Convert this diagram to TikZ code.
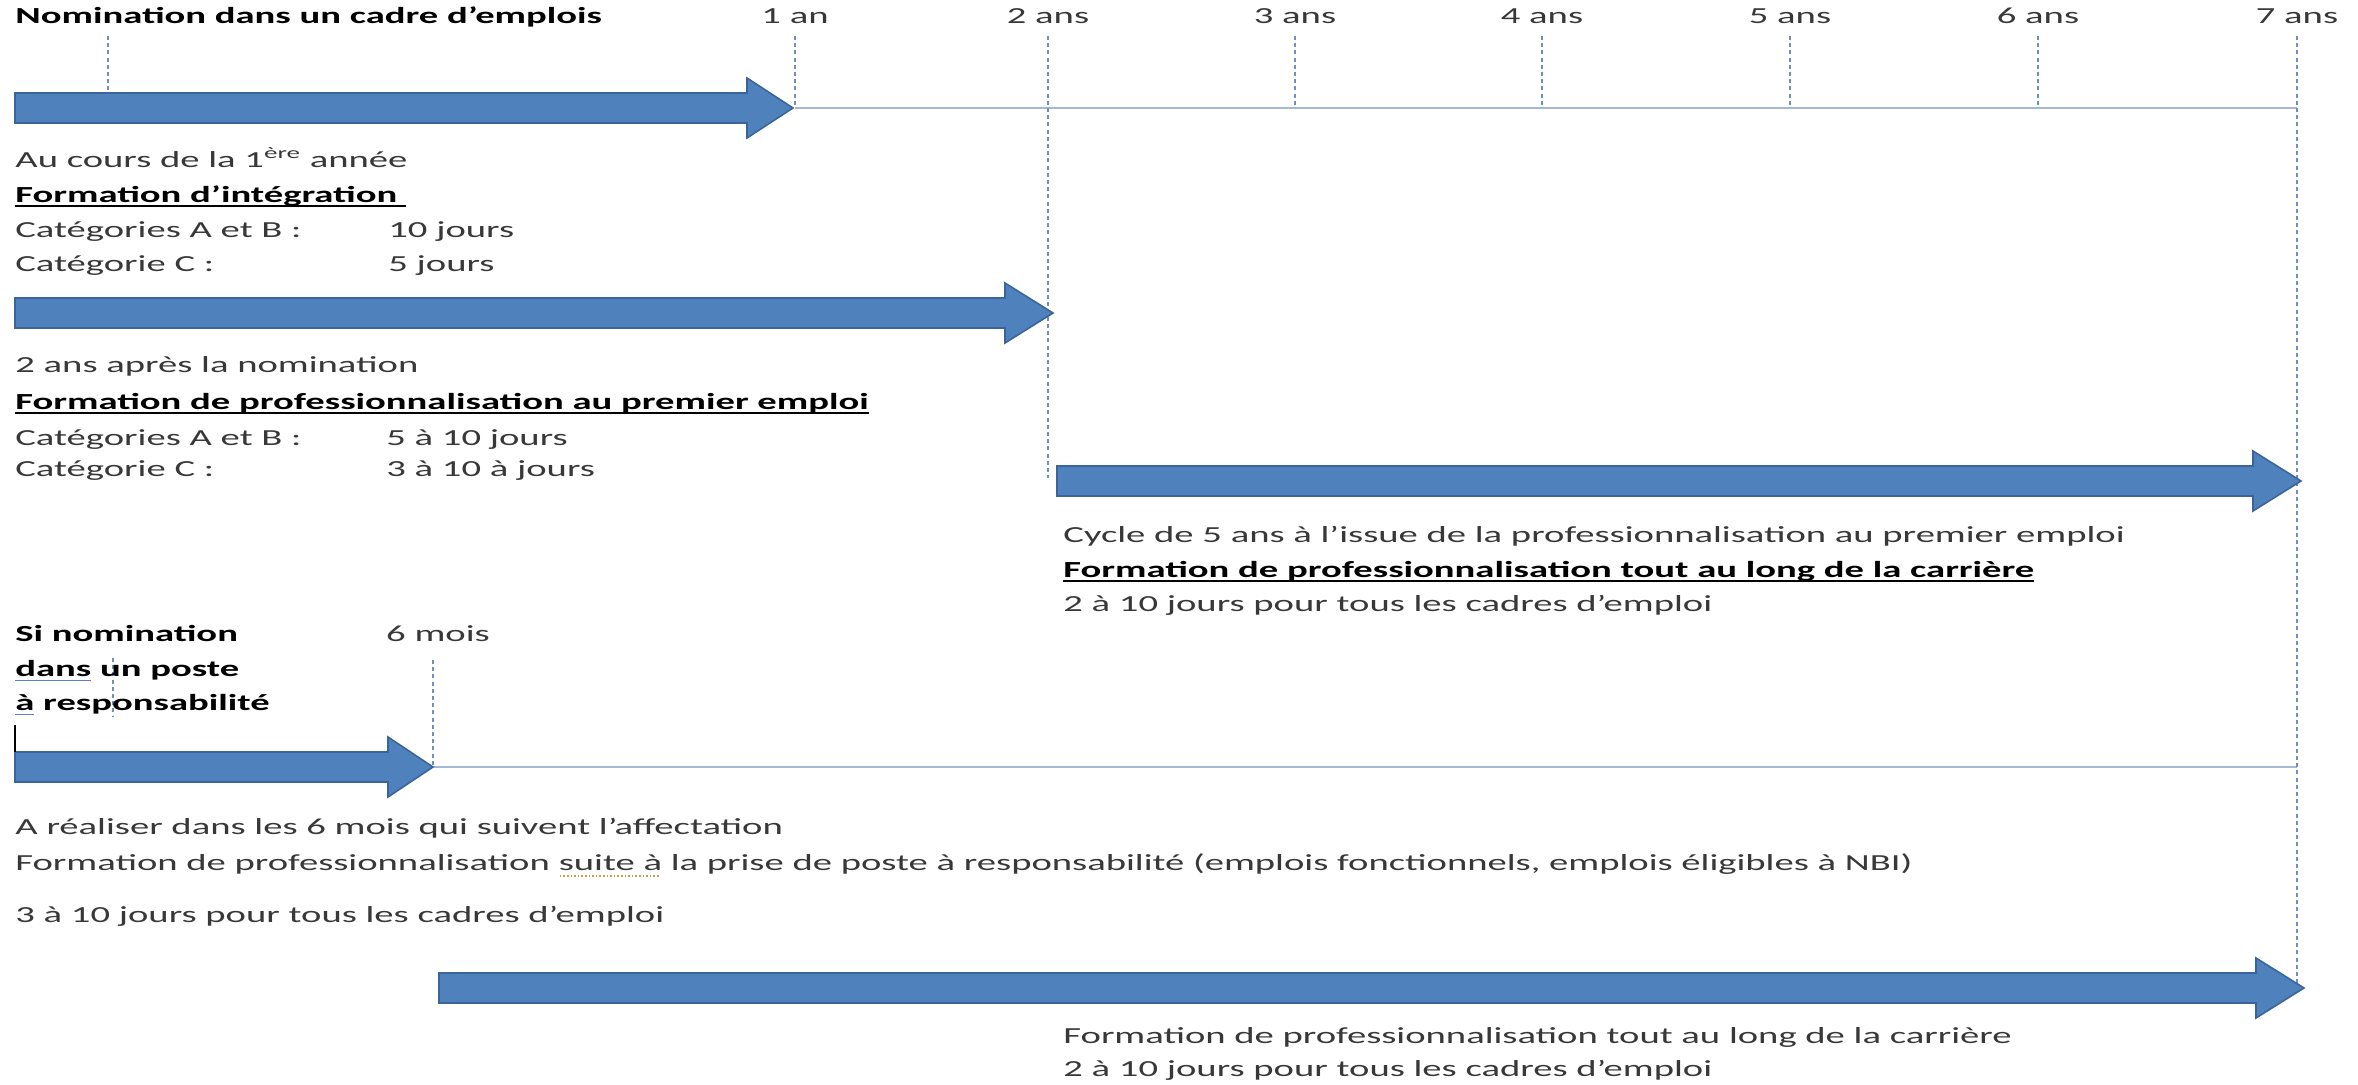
\documentclass[tikz,border=0pt]{standalone}
\usepackage{fontspec}
\setmainfont{Carlito}[FakeStretch=1.68]
\definecolor{arrfill}{HTML}{4F81BD}
\definecolor{arrdraw}{HTML}{3A659A}
\definecolor{tlc}{HTML}{A3B9D8}
\definecolor{tickc}{HTML}{6F8FBF}
\definecolor{txtc}{HTML}{383838}
\definecolor{spellc}{HTML}{5B7FD0}
\definecolor{gramc}{HTML}{C8A040}
\newcommand\myul[1]{\setbox0\hbox{#1}\rlap{\raisebox{-2.2pt}{\rule{\wd0}{0.9pt}}}#1}
\newcommand\myspell[1]{\setbox0\hbox{#1}\rlap{\raisebox{-2.4pt}{\textcolor{spellc}{\rule{\wd0}{0.7pt}}}}#1}
\newcommand\mydotul[1]{\setbox0\hbox{#1}\rlap{\raisebox{-3pt}{\textcolor{gramc}{\hbox to \wd0{\leaders\hbox to 1.8pt{\hss\rule{0.8pt}{0.8pt}\hss}\hfill}}}}#1}
\begin{document}
\begin{tikzpicture}[x=0.5pt,y=-0.5pt,
  txt/.style={anchor=west, inner sep=0pt, text height=8.6pt, text depth=2.9pt,
              font=\fontsize{11.5}{14}\selectfont, text=txtc},
  bold/.style={txt, font=\fontsize{11.5}{14}\selectfont\bfseries, text=black},
  yr/.style={txt, anchor=center},
  barrow/.style={fill=arrfill, draw=arrdraw, line width=0.8pt, line join=miter},
  tl/.style={draw=tlc, line width=1.4pt},
  tick/.style={draw=tickc, line width=0.6pt, dash pattern=on 2pt off 1.6pt}]
\useasboundingbox (0,0) rectangle (2358,1085);

% ---- tick labels ----
\node[bold] (title) at (15,18) {Nomination dans un cadre d’emplois};
\foreach \n/\x/\lab in {1/795/1 an, 2/1048/2 ans, 3/1295/3 ans, 4/1542/4 ans,
                         5/1790/5 ans, 6/2038/6 ans, 7/2297/7 ans}{
  \node[yr] (y\n) at (\x,18) {\lab};
  \coordinate (t\n) at (\x,36);
}
\coordinate (t0) at (108,36);
\coordinate (b0) at (108,93);
\coordinate (b1) at (795,108);
\coordinate (b2) at (1048,478);
\coordinate (b3) at (1295,108);
\coordinate (b4) at (1542,108);
\coordinate (b5) at (1790,108);
\coordinate (b6) at (2038,108);
\coordinate (b7) at (2297,985);
\coordinate (line1e) at (2297,108);

% ---- timeline lines ----
\draw[tl] (b1) -- (line1e);
\coordinate (m0) at (433,767);
\coordinate (line2e) at (2297,767);
\draw[tl] (m0) -- (line2e);

% ---- dotted ticks ----
\foreach \i in {0,...,7}{ \draw[tick] (t\i) -- (b\i); }
\coordinate (mt) at (433,660);
\draw[tick] (mt) -- (m0);
\coordinate (st) at (113,658);
\coordinate (sb) at (113,716);
\draw[tick] (st) -- (sb);

% ---- arrows ----
\draw[barrow] (15,93) -- (747,93) -- (747,78) -- (793,108) -- (747,138) -- (747,123) -- (15,123) -- cycle;
\draw[barrow] (15,298) -- (1005,298) -- (1005,283) -- (1053,313) -- (1005,343) -- (1005,328) -- (15,328) -- cycle;
\draw[barrow] (1057,466) -- (2253,466) -- (2253,451) -- (2301,481) -- (2253,511) -- (2253,496) -- (1057,496) -- cycle;
\draw[barrow] (15,752) -- (388,752) -- (388,737) -- (433,767) -- (388,797) -- (388,782) -- (15,782) -- cycle;
\draw[barrow] (439,973) -- (2256,973) -- (2256,958) -- (2304,988) -- (2256,1018) -- (2256,1003) -- (439,1003) -- cycle;

% ---- block 1 ----
\node[txt] (b1a) at (15,162) {Au cours de la 1\textsuperscript{ère} année};
\node[bold] (b1b) at (15,197) {\myul{Formation d’intégration\ }};
\node[txt] (b1c) at (15,232) {Catégories A et B :};
\node[txt] (b1cv) at (388,232) {10 jours};
\node[txt] (b1d) at (15,266) {Catégorie C :};
\node[txt] (b1dv) at (388,266) {5 jours};

% ---- block 2 ----
\node[txt] (b2a) at (15,367) {2 ans après la nomination};
\node[bold] (b2b) at (15,404) {\myul{Formation de professionnalisation au premier emploi}};
\node[txt] (b2c) at (15,440) {Catégories A et B :};
\node[txt] (b2cv) at (386,440) {5 à 10 jours};
\node[txt] (b2d) at (15,471) {Catégorie C :};
\node[txt] (b2dv) at (386,471) {3 à 10 à jours};

% ---- block 3 ----
\node[txt] (b3a) at (1063,537) {Cycle de 5 ans à l’issue de la professionnalisation au premier emploi};
\node[bold] (b3b) at (1063,572) {\myul{Formation de professionnalisation tout au long de la carrière}};
\node[txt] (b3c) at (1063,606) {2 à 10 jours pour tous les cadres d’emploi};

% ---- block 4 ----
\node[bold] (s1) at (15,636) {Si nomination};
\node[bold] (s2) at (15,671) {\myspell{dans} un poste};
\node[bold] (s3) at (15,705) {\myspell{à} responsabilité};
\node[yr] (mois) at (438,636) {6 mois};
\coordinate (cur1) at (15,725);
\coordinate (cur2) at (15,752);
\draw[black, line width=0.8pt] (cur1) -- (cur2);

\node[txt] (b4a) at (15,829) {A réaliser dans les 6 mois qui suivent l’affectation};
\node[txt] (b4b) at (15,865) {Formation de professionnalisation \mydotul{suite à} la prise de poste à responsabilité (emplois fonctionnels, emplois éligibles à NBI)};
\node[txt] (b4c) at (15,917) {3 à 10 jours pour tous les cadres d’emploi};

% ---- block 5 ----
\node[txt] (b5a) at (1063,1038) {Formation de professionnalisation tout au long de la carrière};
\node[txt] (b5b) at (1063,1071) {2 à 10 jours pour tous les cadres d’emploi};
\end{tikzpicture}
\end{document}
